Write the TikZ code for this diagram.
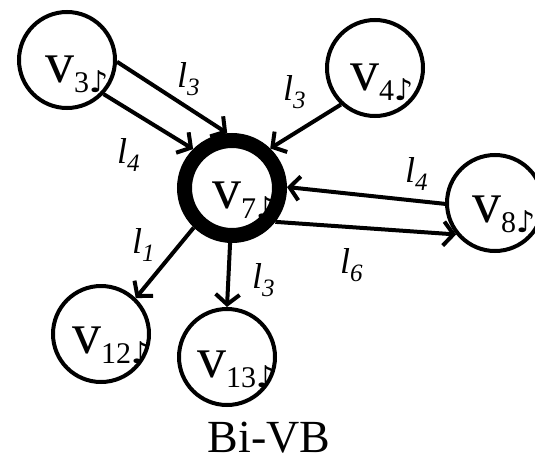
\documentclass[tikz,border=0pt]{standalone}
\usepackage{fontspec}
\setmainfont{Liberation Serif}
\newfontfamily\notefont{DejaVu Sans}
\usetikzlibrary{arrows.meta}
\newcommand{\vlab}[1]{{\fontsize{58}{58}\selectfont v}\raisebox{-10pt}{\fontsize{30}{30}\selectfont #1{\notefont\fontsize{30}{30}\selectfont ♪}}}
\newcommand{\llab}[1]{{\fontsize{36}{36}\selectfont\itshape l}\raisebox{-8pt}{\fontsize{25}{25}\selectfont\itshape #1}}
\tikzset{
  x=1pt, y=-1pt,
  vtx/.style={circle, draw, line width=4pt, minimum size=96pt, inner sep=0pt},
  hub/.style={circle, draw, line width=15pt, minimum size=95pt, inner sep=0pt, outer sep=7.5pt},
  vtext/.style={anchor=base west, inner sep=0pt},
  ltext/.style={anchor=base west, inner sep=0pt},
  edge/.style={line width=4pt, -{Straight Barb[length=10pt,width=24pt,line width=4pt]}},
}
\begin{document}
\begin{tikzpicture}
\useasboundingbox (0,0) rectangle (535,460);
% texts inside vertices (drawn first, circles over them)
\node[vtext] (t3) at (45,82) {\vlab{3}};
\node[vtext] (t4) at (350,90) {\vlab{4}};
\node[vtext] (t7) at (212,208) {\vlab{7}};
\node[vtext] (t8) at (472,222) {\vlab{8}};
\node[vtext] (t12) at (72,353) {\vlab{12}};
\node[vtext] (t13) at (197,377) {\vlab{13}};
% vertices
\node[vtx] (v3) at (67,60) {};
\node[vtx] (v4) at (375,68) {};
\node[vtx] (v8) at (495,203) {};
\node[vtx] (v12) at (101,334) {};
\node[vtx] (v13) at (227,357) {};
\node[hub] (v7) at (232,188) {};
% edges
\draw[edge] (v3.-2) -- (v7.95);
\draw[edge] (v3.-43) -- (v7.135);
\draw[edge] (v4.227) -- (v7.46);
\draw[edge] (v8.181) -- (v7.1);
\draw[edge] (v7.-38) -- (v8.219);
\draw[edge] (v7.226) -- (v12.46);
\draw[edge] (v7.268) -- (v13.90);
% edge labels
\node[ltext] (a) at (177,87) {\llab{3}};
\node[ltext] (b) at (117,163) {\llab{4}};
\node[ltext] (c) at (283,100) {\llab{3}};
\node[ltext] (d) at (405,182) {\llab{4}};
\node[ltext] (e) at (340,273) {\llab{6}};
\node[ltext] (f) at (132,253) {\llab{1}};
\node[ltext] (g) at (252,288) {\llab{3}};
% caption
\node[anchor=base, inner sep=0pt] (cap) at (269,452) {\fontsize{46}{46}\selectfont Bi-VB};
\end{tikzpicture}
\end{document}
